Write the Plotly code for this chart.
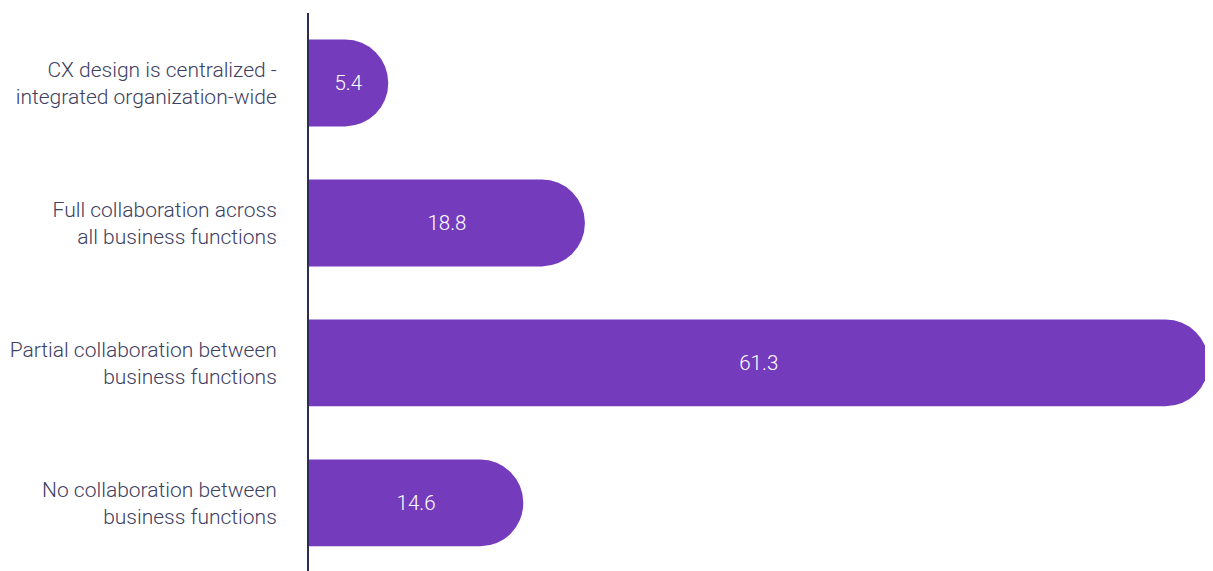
import plotly.graph_objects as go

categories = [
    "CX design is centralized -<br>integrated organization-wide",
    "Full collaboration across<br>all business functions",
    "Partial collaboration between<br>business functions",
    "No collaboration between<br>business functions",
]
values = [5.4, 18.8, 61.3, 14.6]

fig = go.Figure(
    go.Bar(
        x=values,
        y=categories,
        orientation="h",
        marker=dict(color="#753bbd", cornerradius="50%", line=dict(width=0)),
        text=[f"{v:.1f}" for v in values],
        textposition="inside",
        insidetextanchor="middle",
        textangle=0,
        textfont=dict(family="Roboto", size=20.5, color="white", weight=300),
        hoverinfo="skip",
    )
)

fig.update_layout(
    width=1205,
    height=563,
    margin=dict(l=301, r=3, t=5, b=0),
    plot_bgcolor="white",
    paper_bgcolor="white",
    bargap=0.38,
    showlegend=False,
    font=dict(family="Roboto", size=21, color="#3d405f", weight=300),
    xaxis=dict(
        range=[0, 61.4],
        visible=False,
        showgrid=False,
        zeroline=False,
    ),
    yaxis=dict(
        type="category",
        range=[3.486, -0.5],
        showline=True,
        linecolor="#2b2d52",
        linewidth=2,
        showgrid=False,
        zeroline=False,
        ticks="",
        ticklabelstandoff=26,
        tickfont=dict(family="Roboto", size=21, color="#3d405f", weight=300),
    ),
)

fig.write_html("out.html")
